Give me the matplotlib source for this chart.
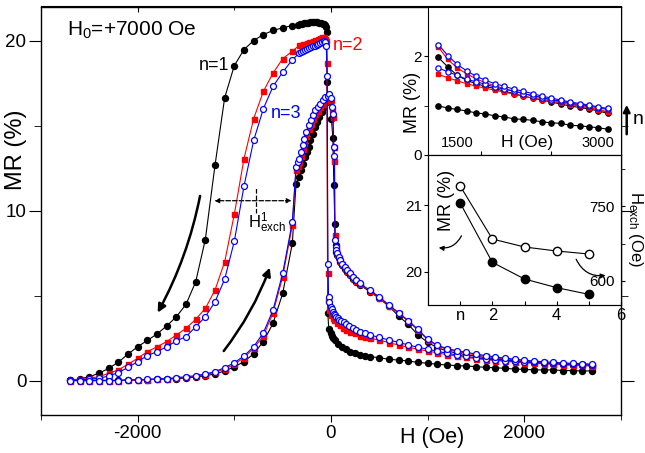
import matplotlib
matplotlib.use('Agg')
import matplotlib.pyplot as plt
from matplotlib.patches import FancyArrowPatch

plt.rcParams['font.family'] = 'Liberation Sans'
plt.rcParams['mathtext.fontset'] = 'custom'
plt.rcParams['mathtext.rm'] = 'Liberation Sans'
plt.rcParams['mathtext.it'] = 'Liberation Sans:italic'
plt.rcParams['axes.unicode_minus'] = False

# ---------------- main panel data (H in Oe, MR in %) ----------------
h_neg = [-2700, -2600, -2500, -2400, -2300, -2200, -2100, -2000, -1900, -1800, -1700, -1600,
         -1500, -1400, -1300, -1200, -1100, -1000, -900, -800, -700, -600, -500, -400]
h_pos = [400, 500, 600, 700, 800, 900, 1000, 1100, 1200, 1300, 1400, 1500,
         1600, 1700, 1800, 1900, 2000, 2100, 2200, 2300, 2400, 2500, 2600, 2700]

# n=1, field decreasing from +H (listed in increasing H)
n1_dn_neg = [0.04, 0.12, 0.25, 0.45, 0.74, 1.10, 1.58, 2.01, 2.38, 2.76, 3.23, 3.77,
             4.50, 5.82, 8.31, 12.67, 16.64, 18.53, 19.47, 20.0, 20.35, 20.59, 20.75, 20.88]
n1_dn_mid_h = [-340, -320, -300, -280, -260, -240, -220, -200, -180, -160, -140, -120, -100, -85,
               -70, -60, -50, -44, -40, -33, -23, -5, 10, 25, 45, 75, 110, 150, 200, 250, 300, 350]
n1_dn_mid = [20.94, 20.97, 21.0, 21.02, 21.04, 21.05, 21.06, 21.07, 21.07, 21.07, 21.06, 21.05, 21.03, 21.0,
             20.97, 20.9, 20.78, 20.5, 17.55, 4.0, 3.03, 2.8, 2.65, 2.55, 2.4, 2.2, 2.0, 1.86, 1.72, 1.62, 1.52, 1.47]
n1_dn_pos = [1.43, 1.37, 1.27, 1.23, 1.17, 1.09, 1.04, 0.98, 0.94, 0.90, 0.88, 0.84,
             0.80, 0.78, 0.74, 0.70, 0.68, 0.65, 0.65, 0.65, 0.61, 0.61, 0.59, 0.59]

# n=1, field increasing from -H
n1_up_neg = [0.04, 0.04, 0.04, 0.04, 0.04, 0.04, 0.06, 0.06, 0.08, 0.10, 0.12, 0.14,
             0.17, 0.23, 0.31, 0.41, 0.58, 0.83, 1.13, 1.60, 2.31, 3.38, 5.14, 8.08]
n1_up_mid_h = [-362, -335, -310, -293, -266, -252, -231, -214, -190, -165, -144, -120, -96, -68, -44,
               -23, -8, 4, 19, 30, 40, 47, 54, 65, 78, 96, 117, 141, 165, 193, 227, 263, 297]
n1_up_mid = [11.59, 11.98, 12.37, 12.77, 13.16, 13.45, 13.74, 14.13, 14.53, 14.92, 15.21, 15.5, 15.79, 16.09, 16.38,
             16.58, 16.65, 15.4, 14.3, 11.5, 9.2, 8.0, 7.6, 7.4, 7.2, 7.0, 6.8, 6.6, 6.42, 6.22, 6.0, 5.84, 5.66]
n1_up_pos = [5.25, 4.85, 4.38, 3.81, 3.32, 2.70, 2.27, 1.95, 1.76, 1.64, 1.54, 1.45,
             1.37, 1.30, 1.24, 1.18, 1.13, 1.08, 1.04, 1.00, 0.97, 0.94, 0.91, 0.89]

# n=2
n2_dn_neg = [0.04, 0.10, 0.16, 0.25, 0.45, 0.65, 0.98, 1.33, 1.72, 2.01, 2.31, 2.70,
             3.09, 3.62, 4.26, 5.34, 7.0, 9.8, 13.06, 15.41, 17.01, 18.08, 18.93, 19.37]
n2_dn_mid_h = [-330, -310, -290, -270, -250, -230, -210, -190, -170, -150, -130, -110, -90, -75, -62, -52,
               -42, -36, -30, -18, 2, 20, 36, 60, 89, 120, 158, 200, 245, 300, 350]
n2_dn_mid = [19.71, 19.74, 19.78, 19.82, 19.86, 19.9, 19.94, 19.98, 20.02, 20.06, 20.1, 20.14, 20.18, 20.2, 20.1, 19.95,
             18.7, 6.35, 4.75, 4.16, 3.87, 3.72, 3.58, 3.42, 3.28, 3.13, 2.99, 2.88, 2.80, 2.66, 2.56]
n2_dn_pos = [2.52, 2.40, 2.25, 2.11, 1.98, 1.86, 1.76, 1.65, 1.55, 1.46, 1.38, 1.31,
             1.25, 1.20, 1.15, 1.11, 1.07, 1.04, 1.01, 0.98, 0.95, 0.93, 0.91, 0.89]

up_mid_h = [-362, -345, -328, -310, -293, -276, -258, -231, -206, -190, -165, -137, -112, -85, -60, -33, -16,
            2, 13, 19, 29, 36, 40, 47, 54, 65, 78, 96, 117, 141, 165, 193, 227, 263, 297]
n2_up_neg = [0.02, 0.02, 0.02, 0.02, 0.02, 0.02, 0.04, 0.04, 0.08, 0.10, 0.12, 0.16,
             0.21, 0.27, 0.36, 0.51, 0.69, 0.98, 1.37, 1.92, 2.64, 4.0, 6.12, 9.15]
n2_up_mid = [12.37, 12.64, 12.85, 13.22, 13.6, 13.98, 14.38, 14.78, 15.08, 15.38, 15.68, 15.88, 16.08, 16.28, 16.46,
             16.58, 16.63, 16.5, 16.0, 15.5, 13.74, 12.9, 8.6, 7.85, 7.65, 7.45, 7.25, 7.05, 6.85, 6.65, 6.47,
             6.28, 6.04, 5.88, 5.69]
n2_up_pos = [5.30, 4.90, 4.42, 3.97, 3.50, 2.98, 2.42, 2.06, 1.85, 1.73, 1.63, 1.53,
             1.44, 1.36, 1.29, 1.23, 1.18, 1.13, 1.09, 1.05, 1.02, 0.99, 0.97, 0.95]

# n=3
n3_dn_neg = [0.04, 0.04, 0.10, 0.16, 0.29, 0.49, 0.80, 1.13, 1.49, 1.72, 2.01, 2.35,
             2.60, 3.18, 3.77, 4.65, 5.98, 8.21, 11.45, 14.13, 15.99, 17.30, 18.14, 18.87]
n3_dn_mid_h = [-330, -310, -290, -270, -250, -230, -210, -190, -170, -150, -130, -110, -90, -72, -58, -48,
               -40, -32, -25, -16, 2, 10, 19, 30, 42, 54, 70, 85, 106, 130, 158, 190, 227, 260, 297, 350]
n3_dn_mid = [19.25, 19.31, 19.38, 19.45, 19.5, 19.55, 19.6, 19.65, 19.7, 19.75, 19.8, 19.85, 19.9, 19.95, 19.9, 19.7,
             17.9, 6.85, 4.94, 4.65, 4.36, 4.2, 4.06, 3.95, 3.86, 3.77, 3.68, 3.61, 3.54, 3.44, 3.34, 3.21,
             3.09, 2.99, 2.89, 2.80]
n3_dn_pos = [2.70, 2.56, 2.40, 2.27, 2.11, 1.98, 1.87, 1.74, 1.63, 1.53, 1.44, 1.36,
             1.30, 1.25, 1.20, 1.16, 1.12, 1.09, 1.06, 1.03, 1.00, 0.98, 0.96, 0.94]

n3_up_neg = [0.02, 0.02, 0.02, 0.02, 0.02, 0.02, 0.06, 0.06, 0.10, 0.12, 0.14, 0.19,
             0.25, 0.31, 0.41, 0.55, 0.78, 1.07, 1.47, 2.01, 2.83, 4.16, 6.32, 9.35]
n3_up_mid = [12.57, 12.86, 13.06, 13.45, 13.84, 14.23, 14.62, 15.01, 15.31, 15.6, 15.9, 16.09, 16.29, 16.48, 16.67,
             16.77, 16.83, 16.64, 16.09, 15.7, 13.74, 13.21, 8.31, 7.88, 7.68, 7.49, 7.29, 7.10, 6.90, 6.70, 6.51,
             6.32, 6.08, 5.92, 5.73]
n3_up_pos = [5.34, 4.94, 4.46, 4.01, 3.54, 3.03, 2.45, 2.10, 1.90, 1.78, 1.68, 1.58,
             1.49, 1.41, 1.34, 1.28, 1.22, 1.17, 1.13, 1.09, 1.06, 1.03, 1.01, 0.99]

# ---------------- inset 1: high-field tails ----------------
ins_h = [1300, 1400, 1500, 1600, 1700, 1800, 1900, 2000, 2100, 2200,
         2300, 2400, 2500, 2600, 2700, 2800, 2900, 3000, 3100]
ins_n1_lo = [0.99, 0.95, 0.92, 0.89, 0.85, 0.83, 0.79, 0.77, 0.73, 0.72,
             0.70, 0.67, 0.65, 0.64, 0.60, 0.59, 0.57, 0.55, 0.52]
ins_n1_hi = [1.97, 1.78, 1.61, 1.51, 1.44, 1.39, 1.34, 1.29, 1.24, 1.19,
             1.15, 1.11, 1.07, 1.03, 0.99, 0.96, 0.93, 0.89, 0.84]
ins_n2_hi = [2.18, 1.93, 1.76, 1.64, 1.54, 1.46, 1.40, 1.34, 1.29, 1.25,
             1.19, 1.16, 1.11, 1.07, 1.04, 1.00, 0.97, 0.91, 0.87]
ins_n2_lo = [1.63, 1.56, 1.50, 1.44, 1.39, 1.35, 1.31, 1.27, 1.23, 1.19,
             1.15, 1.12, 1.09, 1.05, 1.02, 0.99, 0.95, 0.91, 0.87]
ins_n3_hi = [2.23, 2.01, 1.83, 1.70, 1.59, 1.51, 1.44, 1.39, 1.33, 1.29,
             1.24, 1.19, 1.15, 1.11, 1.07, 1.04, 1.01, 0.97, 0.94]
ins_n3_lo = [1.76, 1.68, 1.61, 1.53, 1.48, 1.43, 1.37, 1.33, 1.29, 1.24,
             1.20, 1.16, 1.12, 1.09, 1.05, 1.02, 0.99, 0.95, 0.92]

# ---------------- inset 2: peak MR and exchange field vs n ----------------
cycle_n = [1, 2, 3, 4, 5]
peak_mr = [21.03, 20.14, 19.89, 19.76, 19.66]
h_exch = [790, 684, 668, 660, 654]

W, H = 645, 453
fig = plt.figure(figsize=(W / 100, H / 100), dpi=100)

black = dict(color='black', marker='o', ms=4.3, mfc='black', mec='black', lw=0.8, zorder=2)
red = dict(color='red', marker='s', ms=3.6, mfc='red', mec='red', lw=0.8, zorder=3)
blue = dict(color='blue', marker='o', ms=4.3, mfc='white', mec='blue', mew=0.9, lw=0.8, zorder=4)

ax = fig.add_axes([41 / W, 38 / H, 580 / W, 408.5 / H])
for st, dn, up in [
    (black, (n1_dn_neg, n1_dn_mid_h, n1_dn_mid, n1_dn_pos), (n1_up_neg, n1_up_mid_h, n1_up_mid, n1_up_pos)),
    (red, (n2_dn_neg, n2_dn_mid_h, n2_dn_mid, n2_dn_pos), (n2_up_neg, up_mid_h, n2_up_mid, n2_up_pos)),
    (blue, (n3_dn_neg, n3_dn_mid_h, n3_dn_mid, n3_dn_pos), (n3_up_neg, up_mid_h, n3_up_mid, n3_up_pos)),
]:
    for neg, mid_h, mid, pos in (dn, up):
        ax.plot(h_neg + mid_h + h_pos, neg + mid + pos, **st)

ax.set_xlim(-3000, 3000)
ax.set_ylim(-2, 22)
ax.set_xticks([-2000, 0, 2000])
ax.set_xticks([-3000, -1000, 1000, 3000], minor=True)
ax.set_yticks([0, 10, 20])
ax.set_yticks([5, 15], minor=True)
ax.tick_params(axis='x', which='both', direction='out', labelsize=13.5, pad=2)
ax.tick_params(axis='x', which='major', length=5)
ax.tick_params(axis='x', which='minor', length=3.5)
ax.tick_params(axis='y', which='both', direction='out', labelsize=13.5, pad=1.5, right=True)
ax.tick_params(axis='y', which='major', length=9)
ax.tick_params(axis='y', which='minor', length=5)
for sp in ax.spines.values():
    sp.set_linewidth(1.0)
# top axis: inward ticks, no labels
top = ax.secondary_xaxis('top')
top.set_xticks([-2000, 0, 2000])
top.set_xticks([-3000, -1000, 1000, 3000], minor=True)
top.tick_params(which='both', direction='in', labeltop=False)
top.tick_params(which='major', length=4)
top.tick_params(which='minor', length=3)

fig.text(432 / W, 1 - 437 / H, 'H (Oe)', ha='center', va='center', fontsize=15.5)
fig.text(16 / W, 1 - 150 / H, 'MR (%)', ha='center', va='center', rotation=90, fontsize=17)

ax.text(-2730, 20.3, r'H$_0$=+7000 Oe', fontsize=15, ha='left', va='baseline')
ax.text(-1214, 18.54, 'n=1', fontsize=13, color='black', ha='center', va='center')
ax.text(15, 19.72, 'n=2', fontsize=13, color='red', ha='left', va='center')
ax.text(-464, 15.73, 'n=3', fontsize=13, color='blue', ha='center', va='center')

# H_exch marker
ax.annotate('', xy=(-1234, 10.59), xytext=(-380, 10.59),
            arrowprops=dict(arrowstyle='<|-|>', ls='--', lw=0.9, color='black', mutation_scale=7))
ax.plot([-781, -781], [9.86, 11.33], ls='--', lw=0.9, color='black')
ax.text(-860, 8.98, r'$\mathrm{H}^{1}_{\mathrm{exch}}$', fontsize=12, ha='left', va='baseline')

# sweep direction arrows
ax.add_patch(FancyArrowPatch((-1349, 11.03), (-1807, 3.87), connectionstyle='arc3,rad=-0.08',
                             arrowstyle='-|>', mutation_scale=12, lw=1.8, color='black'))
ax.add_patch(FancyArrowPatch((-1127, 1.63), (-623, 6.81), connectionstyle='arc3,rad=0.08',
                             arrowstyle='-|>', mutation_scale=12, lw=1.8, color='black'))

# ---------------- inset 1 ----------------
ax1 = fig.add_axes([428 / W, 1 - 155 / H, 193 / W, 148.5 / H])
small_black = dict(black, ms=3.8)
small_red = dict(red, ms=3.3)
small_blue = dict(blue, ms=3.8)
ax1.plot(ins_h, ins_n1_lo, **small_black)
ax1.plot(ins_h, ins_n1_hi, **small_black)
ax1.plot(ins_h, ins_n2_lo, **small_red)
ax1.plot(ins_h, ins_n2_hi, **small_red)
ax1.plot(ins_h, ins_n3_lo, **small_blue)
ax1.plot(ins_h, ins_n3_hi, **small_blue)
ax1.set_xlim(1190, 3240)
ax1.set_ylim(0, 3)
ax1.set_xticks([1750, 2500])
ax1.set_xticklabels([])
ax1.set_yticks([0, 2])
ax1.set_yticks([1, 3], minor=True)
ax1.tick_params(axis='x', direction='in', length=3)
ax1.tick_params(axis='y', which='both', direction='out', labelsize=11, pad=1.5, length=3)
ax1.text(1500, 0.08, '1500', transform=ax1.get_xaxis_transform(), ha='center', va='center', fontsize=10.5)
ax1.text(3000, 0.08, '3000', transform=ax1.get_xaxis_transform(), ha='center', va='center', fontsize=10.5)
ax1.text(0.513, 0.085, 'H (Oe)', transform=ax1.transAxes, ha='center', va='center', fontsize=12.5)
ax1.text(-0.078, 0.357, 'MR (%)', transform=ax1.transAxes, ha='center', va='center',
         rotation=90, fontsize=13)

# n arrow beside inset 1
fig.patches.append(FancyArrowPatch((626.7 / W, 1 - 137 / H), (626.7 / W, 1 - 102 / H),
                                   transform=fig.transFigure, arrowstyle='-|>', mutation_scale=10,
                                   lw=1.8, color='black'))
fig.text(638 / W, 1 - 119 / H, 'n', ha='center', va='center', fontsize=14)

# ---------------- inset 2 ----------------
ax2 = fig.add_axes([428 / W, 1 - 305 / H, 193 / W, 150 / H])
ax2.plot(cycle_n, peak_mr, color='black', marker='o', ms=6, mfc='black', mec='black', lw=0.8)
ax2.set_xlim(0, 6)
ax2.set_ylim(19.5, 21.75)
ax2.set_xticks([1, 2, 3, 4, 5, 6])
ax2.set_xticklabels(['n', '2', '', '4', '', '6'])
ax2.set_yticks([20, 21])
ax2.tick_params(axis='x', direction='in', length=3, labelsize=12, pad=2)
ax2.tick_params(axis='y', direction='out', length=3, labelsize=11, pad=1.5)
ax2b = ax2.twinx()
ax2b.plot(cycle_n, h_exch, color='black', marker='o', ms=6, mfc='white', mec='black', lw=0.8)
ax2b.set_ylim(552, 852)
ax2b.set_yticks([600, 750])
ax2b.set_yticks([675, 825], minor=True)
ax2b.tick_params(axis='y', which='both', direction='out', length=3, labelsize=11, pad=-26)
ax2.text(0.098, 0.70, 'MR (%)', transform=ax2.transAxes, ha='center', va='center',
         rotation=90, fontsize=13)
fig.text(635 / W, 1 - 229 / H, r'H$_{\mathrm{exch}}$ (Oe)', ha='center', va='center',
         rotation=-90, fontsize=12)
fig.patches.append(FancyArrowPatch((462.7 / W, 1 - 233.3 / H), (436 / W, 1 - 247.3 / H),
                                   transform=fig.transFigure, connectionstyle='arc3,rad=-0.4',
                                   arrowstyle='-|>', mutation_scale=7, lw=0.9, color='black'))
fig.patches.append(FancyArrowPatch((575 / W, 1 - 256.7 / H), (608.3 / W, 1 - 275 / H),
                                   transform=fig.transFigure, connectionstyle='arc3,rad=0.4',
                                   arrowstyle='-|>', mutation_scale=7, lw=0.9, color='black'))

fig.savefig('out.png', dpi=100)
